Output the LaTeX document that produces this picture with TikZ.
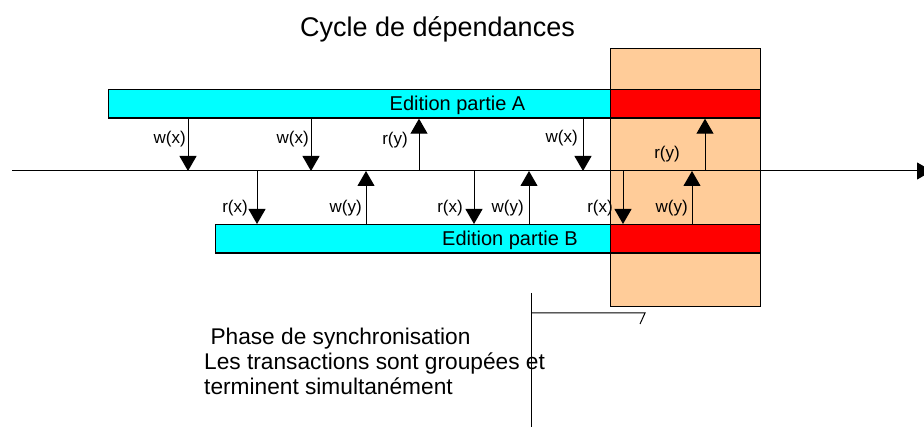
\documentclass[tikz,border=0pt]{standalone}
\usepackage{fontspec}
\setmainfont{Liberation Sans}
\usetikzlibrary{arrows.meta}
\definecolor{peach}{HTML}{FFCC99}
\definecolor{aqua}{HTML}{00FFFF}
\definecolor{purered}{HTML}{FF0000}
\tikzset{bar/.style = {draw, very thick, rectangle, inner sep=0pt, anchor=north west},
         sig/.style = {line width=1pt, -{Triangle[width=17pt,length=15pt]}},
         lbl/.style = {inner sep=0pt, anchor=base east, font=\fontsize{17}{20}\selectfont},
         txt/.style = {inner sep=0pt, anchor=base, font=\fontsize{20}{23}\selectfont}}

\begin{document}
\begin{tikzpicture}[x=1pt,y=-1pt]
    \useasboundingbox (0,0) rectangle (924,427);

    \node[txt, font=\fontsize{27}{30}\selectfont] (title) at (437.5,37) {Cycle de d\'ependances};

    % synchronisation phase
    \node[bar, fill=peach, line width=1pt, minimum width=150pt, minimum height=258pt] (sync) at (609.5,48.5) {};

    % editions
    \node[bar, fill=aqua, minimum width=502pt, minimum height=28.5pt] (barA) at (107.5,89) {};
    \node[bar, fill=purered, minimum width=150pt, minimum height=28.5pt] (redA) at (609.5,89) {};
    \node[bar, fill=aqua, minimum width=394.5pt, minimum height=28.5pt] (barB) at (215,224) {};
    \node[bar, fill=purered, minimum width=150pt, minimum height=28.5pt] (redB) at (609.5,224) {};
    \node[txt] (textA) at (457.5,111) {Edition partie A};
    \node[txt] (textB) at (510,246) {Edition partie B};

    % time axis
    \coordinate (t0) at (12,171);
    \coordinate (tend) at (932,171);
    \draw[line width=1pt,-{Triangle[width=17pt,length=15pt]}] (t0) -- (tend);

    \coordinate (a1) at (188,171);
    \coordinate (a2) at (311,171);
    \coordinate (a3) at (419,171);
    \coordinate (a4) at (583,171);
    \coordinate (a5) at (705,171);
    \coordinate (b1) at (257,171);
    \coordinate (b2) at (366,171);
    \coordinate (b3) at (474,171);
    \coordinate (b4) at (529,171);
    \coordinate (b5) at (623,171);
    \coordinate (b6) at (692,171);

    % partie A
    \draw[sig] (barA.south -| a1) -- (a1);
    \draw[sig] (barA.south -| a2) -- (a2);
    \draw[sig] (a3) -- (barA.south -| a3);
    \draw[sig] (barA.south -| a4) -- (a4);
    \draw[sig] (a5) -- (redA.south -| a5);

    % partie B
    \draw[sig] (b1) -- (barB.north -| b1);
    \draw[sig] (barB.north -| b2) -- (b2);
    \draw[sig] (b3) -- (barB.north -| b3);
    \draw[sig] (barB.north -| b4) -- (b4);
    \draw[sig] (b5) -- (redB.north -| b5);
    \draw[sig] (redB.north -| b6) -- (b6);

    \node[lbl] (la1) at (186,144) {w(x)};
    \node[lbl] (la2) at (309,144) {w(x)};
    \node[lbl] (la3) at (408,145) {r(y)};
    \node[lbl] (la4) at (578,143) {w(x)};
    \node[lbl] (la5) at (680,159) {r(y)};
    \node[lbl] (lb1) at (248,213) {r(x)};
    \node[lbl] (lb2) at (362,213) {w(y)};
    \node[lbl] (lb3) at (463,213) {r(x)};
    \node[lbl] (lb4) at (524,213) {w(y)};
    \node[lbl] (lb5) at (613,213) {r(x)};
    \node[lbl] (lb6) at (688,213) {w(y)};

    % legende
    \coordinate (p0) at (531,293);
    \coordinate (p1) at (531,427);
    \coordinate (q0) at (531,313);
    \coordinate (q1) at (645,313);
    \coordinate (q2) at (640,324);
    \draw[line width=1pt] (p0) -- (p1);
    \draw[line width=1pt] (q0) -- (q1) -- (q2);
    \node[inner sep=0pt, anchor=north west, align=left, font=\fontsize{22.7}{25}\selectfont] (phase) at (204,328)
        {\ Phase de synchronisation\\Les transactions sont group\'ees et\\terminent simultan\'ement};
\end{tikzpicture}
\end{document}
